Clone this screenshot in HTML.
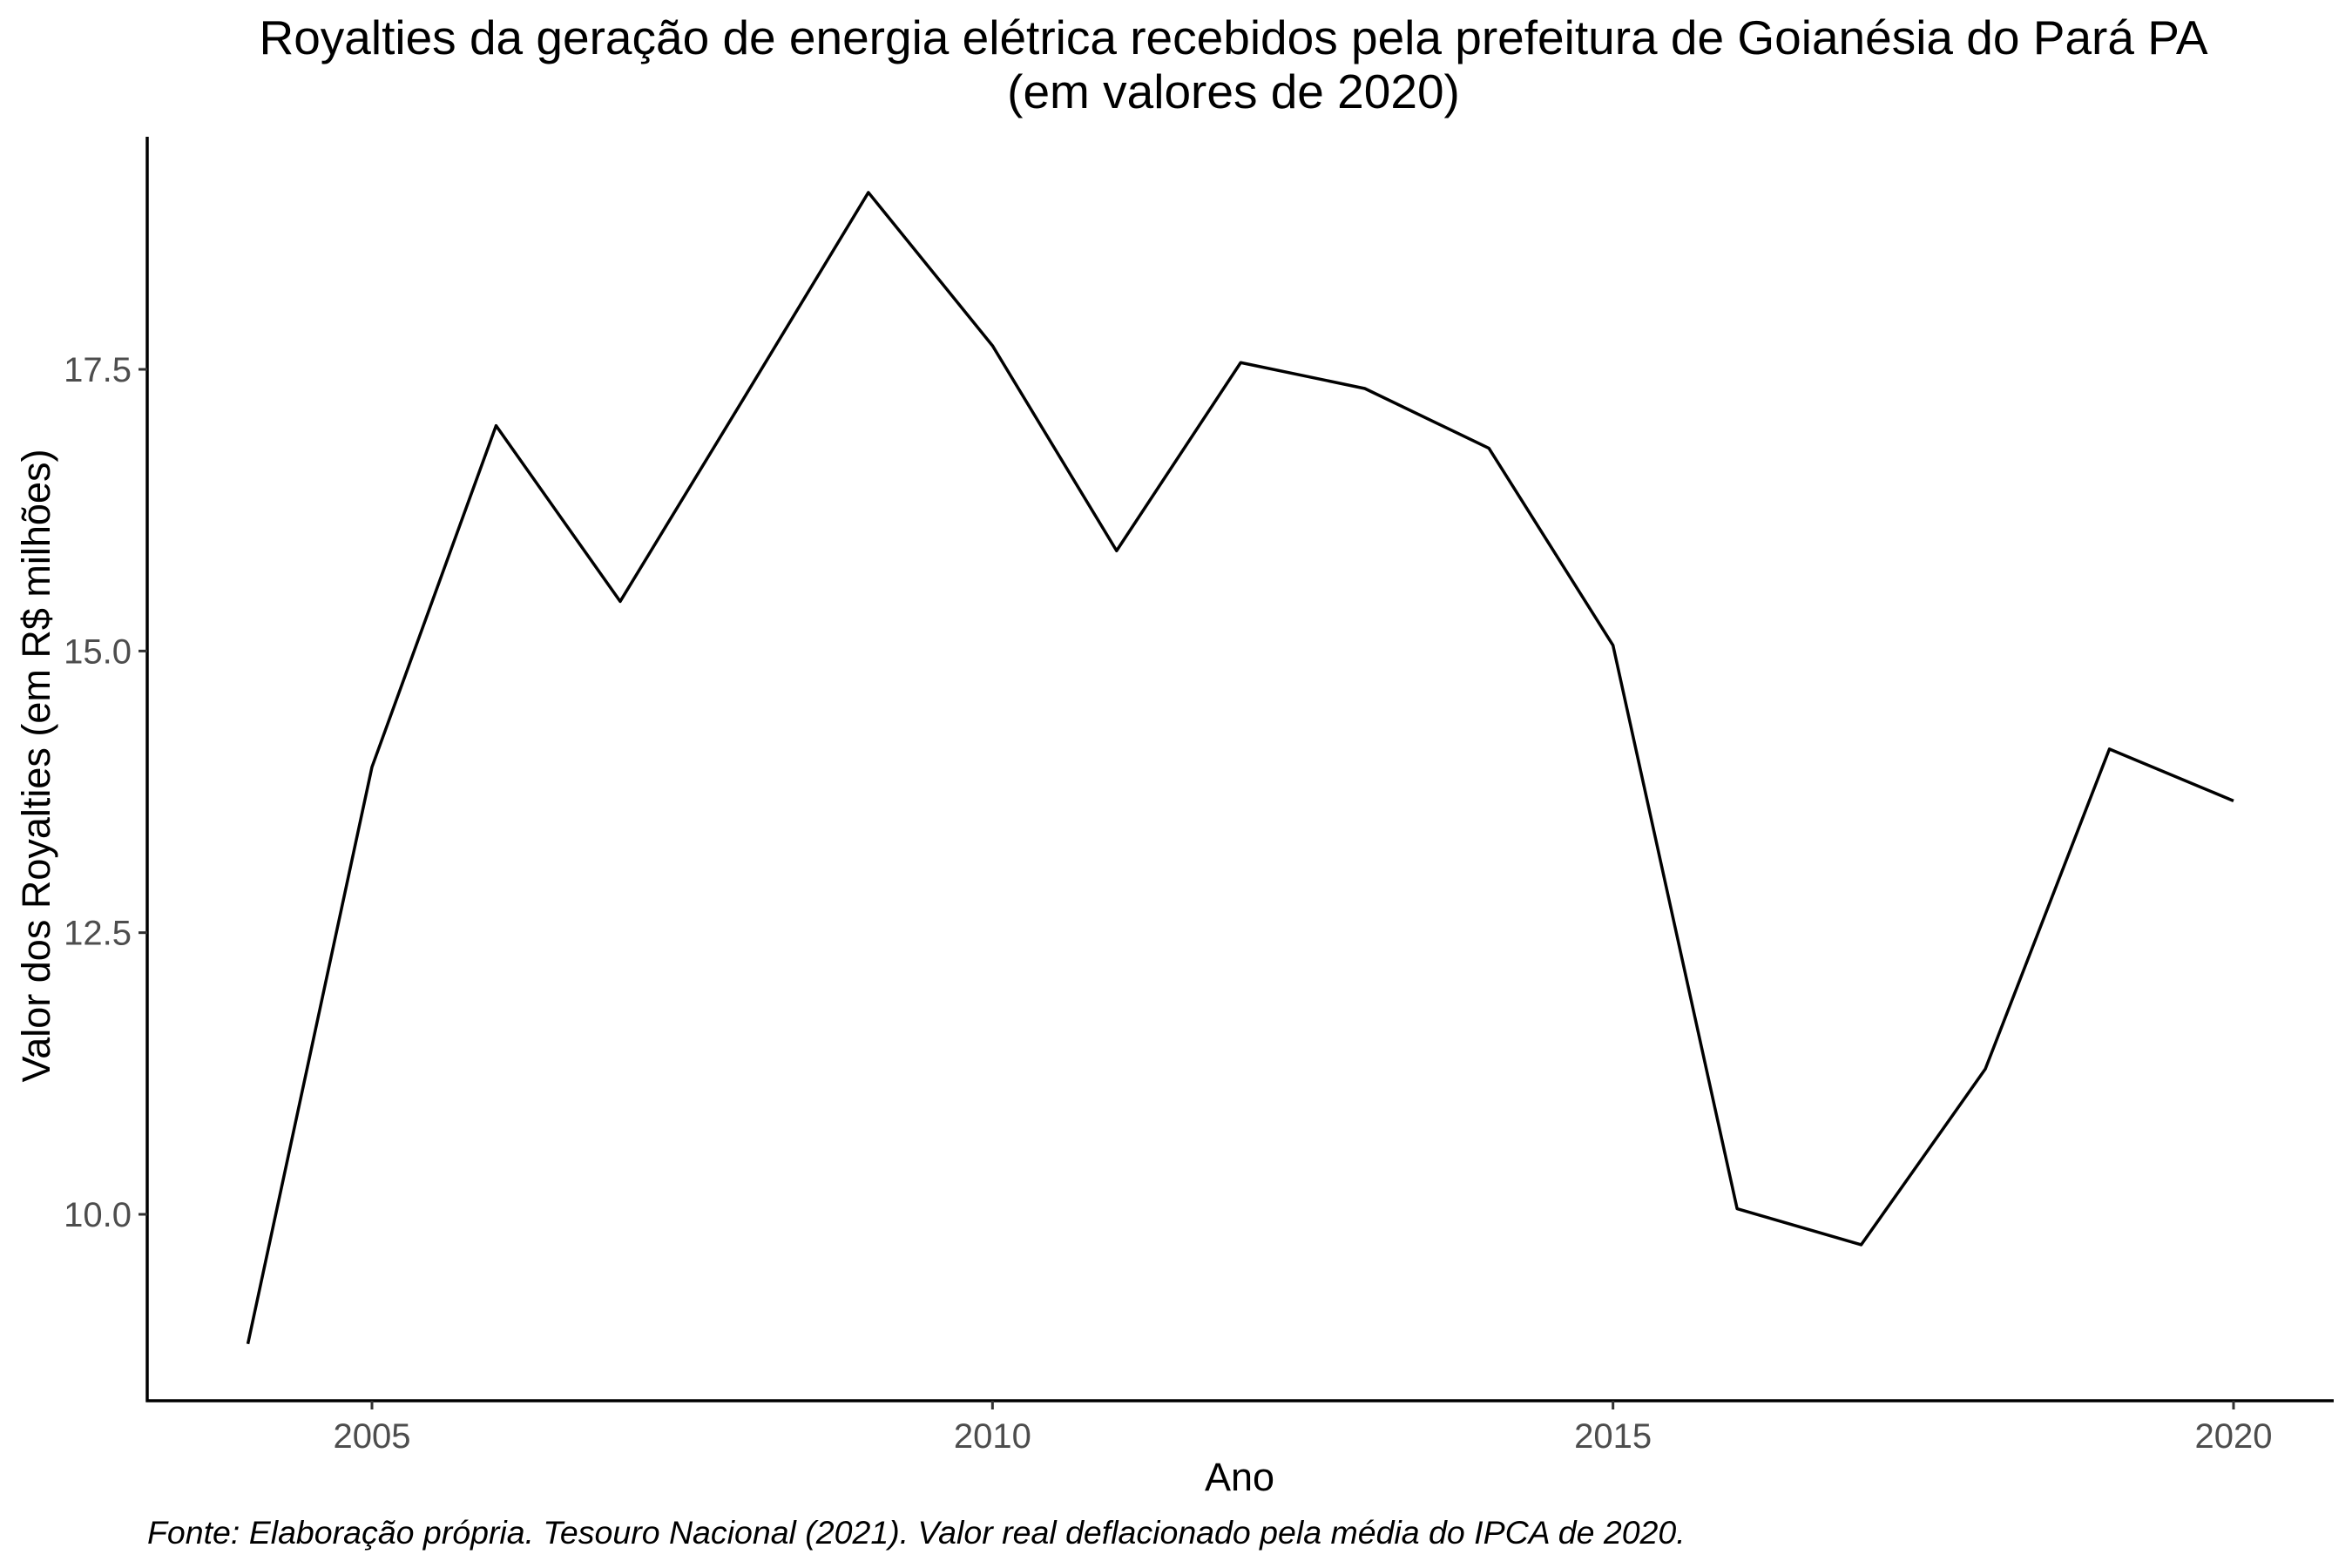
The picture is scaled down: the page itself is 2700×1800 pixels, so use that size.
<!DOCTYPE html>
<html><head><meta charset="utf-8"><style>body{margin:0;background:#fff}svg{display:block}</style></head>
<body>
<svg id="chart" width="2700" height="1800" xmlns="http://www.w3.org/2000/svg" font-family="Liberation Sans, Arial, sans-serif">
<rect width="2700" height="1800" fill="#fff"/>
<text x="1416" y="62" font-size="55" text-anchor="middle">Royalties da geração de energia elétrica recebidos pela prefeitura de Goianésia do Pará PA</text>
<text x="1416" y="124" font-size="55" text-anchor="middle">(em valores de 2020)</text>
<g id="axes"></g>
<g id="marks"></g>
<text x="1423" y="1711" font-size="45" text-anchor="middle">Ano</text>
<text transform="translate(57,879) rotate(-90)" font-size="45" text-anchor="middle">Valor dos Royalties (em R$ milhões)</text>
<text x="169" y="1772" font-size="37.5" font-style="italic">Fonte: Elaboração própria. Tesouro Nacional (2021). Valor real deflacionado pela média do IPCA de 2020.</text>
</svg>
<script>
const years=[2004,2005,2006,2007,2008,2009,2010,2011,2012,2013,2014,2015,2016,2017,2018,2019,2020];
const values=[8.85,13.97,17.0,15.44,17.25,19.07,17.71,15.89,17.56,17.33,16.8,15.05,10.05,9.73,11.29,14.13,13.67];
const xTicks=[2005,2010,2015,2020];
const yTicks=[10.0,12.5,15.0,17.5];
const yTickLabels=["10.0","12.5","15.0","17.5"];
const NS="http://www.w3.org/2000/svg";
const L=169,R=2679,T=157,B=1608;
function xs(v){return 427+(v-2005)*(2564-427)/15;}
function ys(v){return 1394-(v-10)*(1394-424)/7.5;}
function mk(tag,attrs,parent){const e=document.createElementNS(NS,tag);for(const k in attrs)e.setAttribute(k,attrs[k]);parent.appendChild(e);return e;}
const axes=document.getElementById('axes'),marks=document.getElementById('marks');
let e=mk('line',{x1:L,y1:T,x2:L,y2:B+1.5,stroke:'#000','stroke-width':3.5},axes);


e=mk('line',{x1:L-1.5,y1:B,x2:R,y2:B,stroke:'#000','stroke-width':3.5},axes);


xTicks.forEach(t=>{
 const x=xs(t);
 let tk=mk('line',{x1:x,y1:B,x2:x,y2:B+10,stroke:'#333','stroke-width':3},axes);
 
 
 let tx=mk('text',{x:x,y:1662,'font-size':40,'text-anchor':'middle',fill:'#4d4d4d'},axes);
 tx.textContent=String(t);
 
 
});
yTicks.forEach((t,i)=>{
 const y=ys(t);
 let tk=mk('line',{x1:L-10,y1:y,x2:L,y2:y,stroke:'#333','stroke-width':3},axes);
 
 
 let tx=mk('text',{x:151,y:y+14,'font-size':40,'text-anchor':'end',fill:'#4d4d4d'},axes);
 tx.textContent=yTickLabels[i];
 
 
});
const pts=years.map((y,i)=>xs(y)+','+ys(values[i])).join(' ');
const line=mk('polyline',{points:pts,fill:'none',stroke:'#000','stroke-width':3.5,'stroke-linejoin':'round'},marks);


</script>
</body></html>
